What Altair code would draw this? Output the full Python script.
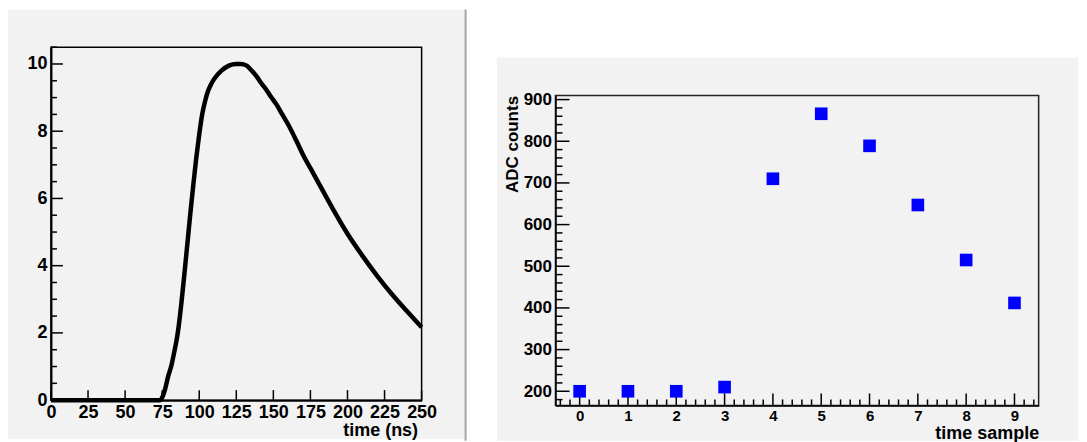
import altair as alt
import pandas as pd

# ---------------- data ----------------
# left panel: shaped pulse (time in ns, amplitude)
pulse_t = [0, 70, 73.5, 75, 77, 79, 81.4, 83, 85, 86, 88, 90, 92, 94, 96, 98, 100,
           102, 104, 106, 108, 110, 115, 120, 125, 128, 132, 135, 138.7, 142, 145,
           148, 152.2, 156, 160, 165.7, 170, 175, 180, 190, 200, 210, 220, 230, 240, 250]
pulse_v = [0, 0, 0, 0.08, 0.33, 0.7, 1.06, 1.4, 1.85, 2.15, 2.9, 3.75, 4.65, 5.55, 6.4, 7.2, 7.9,
           8.5, 8.9, 9.2, 9.4, 9.55, 9.8, 9.95, 10.0, 10.0, 9.95, 9.82, 9.63, 9.42, 9.25,
           9.05, 8.79, 8.5, 8.2, 7.7, 7.3, 6.9, 6.5, 5.7, 4.95, 4.3, 3.7, 3.15, 2.65, 2.17]

# right panel: sampled ADC values
sample_idx = [0, 1, 2, 3, 4, 5, 6, 7, 8, 9]
adc_counts = [200, 200, 200, 210, 710, 866, 789, 647, 515, 412]

# tick positions / labels
left_x_ticks = [0, 25, 50, 75, 100, 125, 150, 175, 200, 225, 250]
left_y_major = [0, 2, 4, 6, 8, 10]
left_y_minor = [0.5, 1, 1.5, 2.5, 3, 3.5, 4.5, 5, 5.5, 6.5, 7, 7.5, 8.5, 9, 9.5, 10.5]
right_x_major = [0, 1, 2, 3, 4, 5, 6, 7, 8, 9]
right_x_minor = [round(-0.4 + 0.2 * i, 1) for i in range(50) if abs(round(-0.4 + 0.2 * i, 1) % 1) > 1e-6]
right_y_major = [200, 300, 400, 500, 600, 700, 800, 900]
right_y_minor = [v for v in range(180, 901, 20) if v % 100 != 0]

FONT = "Liberation Sans"
GRAY = "#f2f2f2"

LW, LH = 371, 353.3          # left plot area
RW = 483.6                   # right plot width
RTOP = 48.3                  # right plot top, below the shared origin
RHV = 358.6                  # right view height (plot bottom)

one = pd.DataFrame({"a": [0]})

# ---------------- left panel ----------------
lxs = alt.Scale(domain=[0, 250], nice=False, zero=False)
lys = alt.Scale(domain=[0, 10.5], nice=False, zero=False)

lx_axis = alt.Axis(values=left_x_ticks, labelFont=FONT, labelFontSize=18, labelFontWeight="bold",
                   labelColor="black", domainColor="black", domainWidth=2, ticks=False, tickSize=0,
                   grid=False, labelPadding=3, labelFlush=False, labelOverlap=False,
                   title="time (ns)", titleFont=FONT, titleFontSize=18, titleFontWeight="bold",
                   titleColor="black", titleX=LW - 4, titleY=35, titleAlign="right",
                   titleBaseline="alphabetic", zindex=1)
ly_axis = alt.Axis(values=left_y_major, labelFont=FONT, labelFontSize=18, labelFontWeight="bold",
                   labelColor="black", domainColor="black", domainWidth=2, ticks=False, tickSize=0,
                   grid=False, labelPadding=4, labelFlush=False, labelOverlap=False,
                   title=None, zindex=1)

l_bg = alt.Chart(one).mark_rect(fill=GRAY).encode(
    x=alt.value(-43), x2=alt.value(416), y=alt.value(-37.7), y2=alt.value(392.3))
l_border = alt.Chart(one).mark_rule(color="#a8a8a8", strokeWidth=2).encode(
    x=alt.value(415), y=alt.value(-37.7), y2=alt.value(394))
l_frame = alt.Chart(one).mark_rect(fillOpacity=0, stroke="black", strokeWidth=1.5).encode(
    x=alt.value(0), x2=alt.value(LW), y=alt.value(0), y2=alt.value(LH))

l_ymaj = alt.Chart(pd.DataFrame({"v": left_y_major})).mark_rule(color="black", strokeWidth=1.5).encode(
    y=alt.Y("v:Q", scale=lys, axis=ly_axis), x=alt.value(0), x2=alt.value(12))
l_ymin = alt.Chart(pd.DataFrame({"v": left_y_minor})).mark_rule(color="black", strokeWidth=1.5).encode(
    y=alt.Y("v:Q", scale=lys, axis=ly_axis), x=alt.value(0), x2=alt.value(6))
l_xmaj = alt.Chart(pd.DataFrame({"t": left_x_ticks})).mark_rule(color="black", strokeWidth=1.5).encode(
    x=alt.X("t:Q", scale=lxs, axis=lx_axis), y=alt.value(LH), y2=alt.value(LH - 10))

l_line = alt.Chart(pd.DataFrame({"t": pulse_t, "v": pulse_v})).mark_line(
    color="black", strokeWidth=4.5, interpolate="monotone", strokeJoin="round").encode(
    x=alt.X("t:Q", scale=lxs, axis=lx_axis), y=alt.Y("v:Q", scale=lys, axis=ly_axis))

left = alt.layer(l_bg, l_border, l_ymaj, l_ymin, l_xmaj, l_frame, l_line).properties(width=LW, height=LH)

# ---------------- right panel ----------------
rxs = alt.Scale(domain=[-0.5, 9.5], nice=False, zero=False)
rys = alt.Scale(domain=[166, 910], nice=False, zero=False, range=[RHV, RTOP])

rx_axis = alt.Axis(values=right_x_major, labelFont=FONT, labelFontSize=15, labelFontWeight="bold",
                   labelColor="black", domainColor="black", domainWidth=1.5, ticks=False, tickSize=0,
                   grid=False, labelPadding=3, labelFlush=False, labelOverlap=False,
                   title="time sample", titleFont=FONT, titleFontSize=18, titleFontWeight="bold",
                   titleColor="black", titleX=RW, titleY=33, titleAlign="right",
                   titleBaseline="alphabetic", zindex=1)
ry_axis = alt.Axis(values=right_y_major, labelFont=FONT, labelFontSize=17, labelFontWeight="bold",
                   labelColor="black", domainColor="black", domainWidth=1.5, ticks=False, tickSize=0,
                   grid=False, labelPadding=4, labelFlush=False, labelOverlap=False,
                   title="ADC counts", titleFont=FONT, titleFontSize=17, titleFontWeight="bold",
                   titleColor="black", titleAngle=270, titleX=-37.7, titleY=RTOP, titleAlign="right",
                   titleBaseline="alphabetic", zindex=1)

r_bg = alt.Chart(one).mark_rect(fill=GRAY).encode(
    x=alt.value(-58.7), x2=alt.value(523.3), y=alt.value(10.3), y2=alt.value(394.3))
r_frame = alt.Chart(one).mark_rect(fillOpacity=0, stroke="#222222", strokeWidth=1.5).encode(
    x=alt.value(0), x2=alt.value(RW), y=alt.value(RTOP), y2=alt.value(RHV))

r_ymaj = alt.Chart(pd.DataFrame({"y": right_y_major})).mark_rule(color="black", strokeWidth=1.5).encode(
    y=alt.Y("y:Q", scale=rys, axis=ry_axis), x=alt.value(0), x2=alt.value(14))
r_ymin = alt.Chart(pd.DataFrame({"y": right_y_minor})).mark_rule(color="black", strokeWidth=1.5).encode(
    y=alt.Y("y:Q", scale=rys, axis=ry_axis), x=alt.value(0), x2=alt.value(7))
r_xmaj = alt.Chart(pd.DataFrame({"x": right_x_major})).mark_rule(color="black", strokeWidth=1.5).encode(
    x=alt.X("x:Q", scale=rxs, axis=rx_axis), y=alt.value(RHV), y2=alt.value(RHV - 12))
r_xmin = alt.Chart(pd.DataFrame({"x": right_x_minor})).mark_rule(color="black", strokeWidth=1.5).encode(
    x=alt.X("x:Q", scale=rxs, axis=rx_axis), y=alt.value(RHV), y2=alt.value(RHV - 6))

r_pts = alt.Chart(pd.DataFrame({"x": sample_idx, "y": adc_counts})).mark_square(
    size=160, color="#0000ff", opacity=1).encode(
    x=alt.X("x:Q", scale=rxs, axis=rx_axis), y=alt.Y("y:Q", scale=rys, axis=ry_axis))

right = alt.layer(r_bg, r_ymaj, r_ymin, r_xmaj, r_xmin, r_frame, r_pts).properties(width=RW, height=RHV)

chart = alt.concat(left, right, columns=2, spacing=30, align="none").properties(
    padding=0).configure_view(stroke=None)

chart.save("out.html", embed_options={"renderer": "svg", "actions": False})
